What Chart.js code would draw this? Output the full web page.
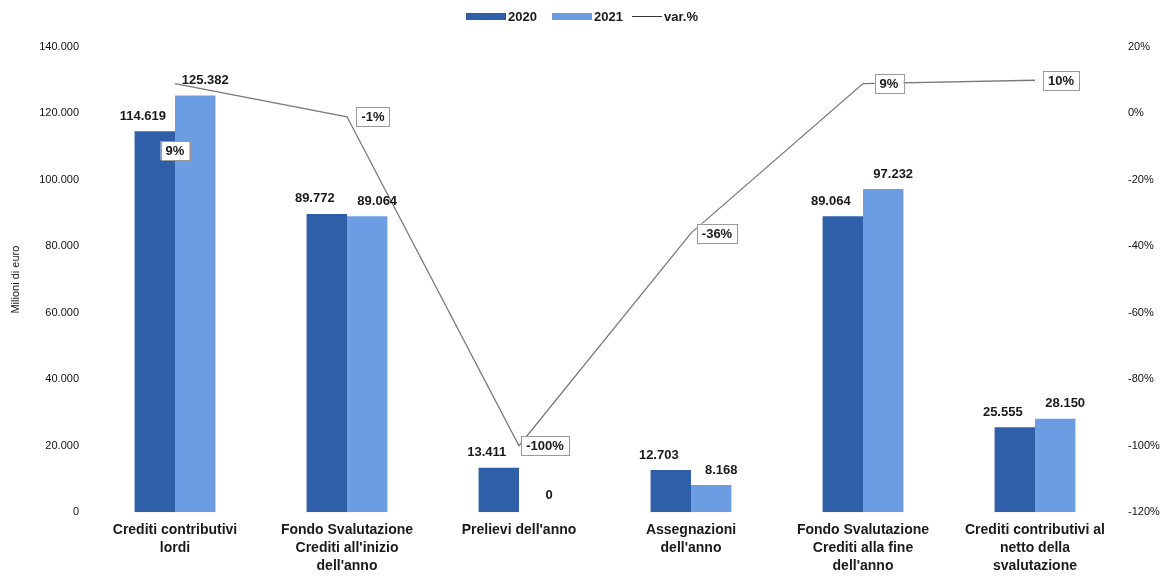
<!DOCTYPE html>
<html>
<head>
<meta charset="utf-8">
<script src="https://cdn.jsdelivr.net/npm/chart.js@4.4.0/dist/chart.umd.min.js"></script>
<style>
  html, body { margin: 0; padding: 0; background: #fff; }
  #wrap { width: 1176px; height: 584px; }
</style>
</head>
<body>
<div id="wrap"><canvas id="chart"></canvas></div>
<script>
const categories = [
  ['Crediti contributivi', 'lordi'],
  ['Fondo Svalutazione', "Crediti all'inizio", "dell'anno"],
  ["Prelievi dell'anno"],
  ['Assegnazioni', "dell'anno"],
  ['Fondo Svalutazione', 'Crediti alla fine', "dell'anno"],
  ['Crediti contributivi al', 'netto della', 'svalutazione']
];
const values2020 = [114619, 89772, 13411, 12703, 89064, 25555];
const values2021 = [125382, 89064, 0, 8168, 97232, 28150];
const varPct = [9, -1, -100, -36, 9, 10];

const DARK = '#2f5fa9';
const LIGHT = '#6c9de3';
const LINE = '#7a7a7a';
const FONT = "'Liberation Sans', Arial, sans-serif";

const fmt = v => v.toLocaleString('it-IT');

// bar values and var.% boxes
const labelsPlugin = {
  id: 'labels',
  afterDatasetsDraw(chart) {
    const ctx = chart.ctx;
    ctx.save();
    ctx.font = 'bold 13px ' + FONT;
    ctx.fillStyle = '#1a1a1a';
    ctx.textAlign = 'center';
    ctx.textBaseline = 'middle';
    [0, 1].forEach(di => {
      const meta = chart.getDatasetMeta(di);
      const data = chart.data.datasets[di].data;
      meta.data.forEach((bar, i) => {
        const dx = di === 0 ? -12 : 10;
        const dy = data[i] === 0 ? -17 : -15;
        ctx.fillText(fmt(data[i]), bar.x + dx, bar.y + dy);
      });
    });

    const lm = chart.getDatasetMeta(2);
    lm.data.forEach((pt, i) => {
      const txt = varPct[i] + '%';
      let x = pt.x + 26, y = pt.y;
      if (i === 0) { x = pt.x; y = pt.y + 67; }
      const w = ctx.measureText(txt).width + 10;
      const h = 19;
      ctx.fillStyle = '#fff';
      ctx.fillRect(x - w / 2, y - h / 2, w, h);
      ctx.strokeStyle = '#9a9a9a';
      ctx.lineWidth = 1;
      ctx.strokeRect(Math.round(x - w / 2) + 0.5, Math.round(y - h / 2) + 0.5, Math.round(w), h);
      ctx.fillStyle = '#1a1a1a';
      ctx.fillText(txt, x, y + 1);
    });

    // legend
    ctx.font = 'bold 13px ' + FONT;
    ctx.textAlign = 'left';
    let lx = 466, ly = 16;
    ctx.fillStyle = DARK;
    ctx.fillRect(lx, ly - 3, 40, 7);
    ctx.fillStyle = '#1a1a1a';
    ctx.fillText('2020', lx + 42, ly + 1);
    lx = 552;
    ctx.fillStyle = LIGHT;
    ctx.fillRect(lx, ly - 3, 40, 7);
    ctx.fillStyle = '#1a1a1a';
    ctx.fillText('2021', lx + 42, ly + 1);
    lx = 632;
    ctx.strokeStyle = '#333';
    ctx.beginPath();
    ctx.moveTo(lx, ly + 0.5);
    ctx.lineTo(lx + 30, ly + 0.5);
    ctx.stroke();
    ctx.fillText('var.%', lx + 32, ly + 1);
    ctx.restore();
  }
};

new Chart(document.getElementById('chart'), {
  data: {
    labels: categories,
    datasets: [
      {
        type: 'bar', label: '2020', data: values2020, backgroundColor: DARK,
        yAxisID: 'y', order: 2, categoryPercentage: 0.47, barPercentage: 1
      },
      {
        type: 'bar', label: '2021', data: values2021, backgroundColor: LIGHT,
        yAxisID: 'y', order: 2, categoryPercentage: 0.47, barPercentage: 1
      },
      {
        type: 'line', label: 'var.%', data: varPct, borderColor: LINE,
        borderWidth: 1.3, pointRadius: 0, tension: 0, yAxisID: 'y1', order: 1
      }
    ]
  },
  plugins: [labelsPlugin],
  options: {
    responsive: true,
    maintainAspectRatio: false,
    animation: false,
    layout: { padding: { top: 47, bottom: 0, left: 9, right: 0 } },
    plugins: { legend: { display: false }, tooltip: { enabled: false } },
    scales: {
      x: {
        grid: { display: false, drawTicks: false },
        border: { display: false },
        ticks: {
          color: '#1a1a1a', padding: 9, maxRotation: 0, autoSkip: false,
          font: { family: FONT, size: 14, weight: 'bold', lineHeight: 1.28 }
        }
      },
      y: {
        position: 'left', min: 0, max: 140000,
        grid: { display: false, drawTicks: false },
        border: { display: false },
        afterFit: s => { s.width = 80; },
        title: {
          display: true, text: 'Milioni di euro', color: '#1a1a1a',
          font: { family: FONT, size: 11 }, padding: { top: 0, bottom: 0 }
        },
        ticks: {
          stepSize: 20000, padding: 10, color: '#111',
          font: { family: FONT, size: 11 },
          callback: v => fmt(v)
        }
      },
      y1: {
        position: 'right', min: -120, max: 20,
        grid: { display: false, drawTicks: false },
        border: { display: false },
        afterFit: s => { s.width = 55; },
        ticks: {
          stepSize: 20, padding: 7, color: '#111',
          font: { family: FONT, size: 11 },
          callback: v => v + '%'
        }
      }
    }
  }
});
</script>
</body>
</html>
